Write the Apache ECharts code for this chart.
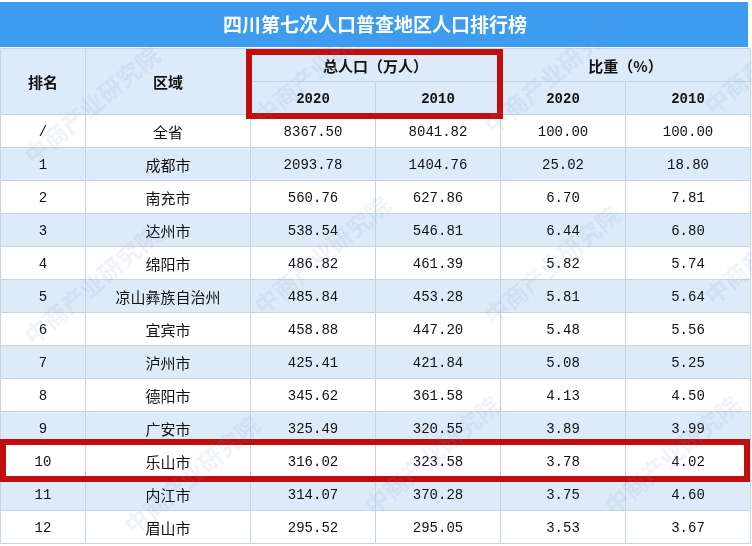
<!DOCTYPE html>
<html>
<head>
<meta charset="utf-8">
<script src="https://cdn.jsdelivr.net/npm/echarts@6/dist/echarts.min.js"></script>
<style>
  html, body { margin: 0; padding: 0; background: #fff; }
  #chart { width: 752px; height: 546px; }
</style>
</head>
<body>
<div id="chart"></div>
<script>
  // table data
  const title = '四川第七次人口普查地区人口排行榜'
  const ranks = ['/', '1', '2', '3', '4', '5', '6', '7', '8', '9', '10', '11', '12']
  const regions = ['全省', '成都市', '南充市', '达州市', '绵阳市', '凉山彝族自治州', '宜宾市', '泸州市', '德阳市', '广安市', '乐山市', '内江市', '眉山市']
  const pop2020 = [8367.50, 2093.78, 560.76, 538.54, 486.82, 485.84, 458.88, 425.41, 345.62, 325.49, 316.02, 314.07, 295.52]
  const pop2010 = [8041.82, 1404.76, 627.86, 546.81, 461.39, 453.28, 447.20, 421.84, 361.58, 320.55, 323.58, 370.28, 295.05]
  const share2020 = [100.00, 25.02, 6.70, 6.44, 5.82, 5.81, 5.48, 5.08, 4.13, 3.89, 3.78, 3.75, 3.53]
  const share2010 = [100.00, 18.80, 7.81, 6.80, 5.74, 5.64, 5.56, 5.25, 4.50, 3.99, 4.02, 4.60, 3.67]
  const headTop = ['排名', '区域', '总人口（万人）', '比重（%）']
  const headYears = ['2020', '2010', '2020', '2010']
  // highlighted rows/columns: [col0, col1, row0, row1]
  const boxes = [[2, 4, 0, 2], [0, 6, 12, 13]]

  const colEdges = [0, 0.68, 2, 3, 4, 5, 6]
  const rowCount = 2 + ranks.length
  const blue = '#ddebf9'
  const lineColor = '#c5d4e3'
  const cnFont = '"Noto Sans CJK SC", sans-serif'
  const numFont = '"Liberation Mono", "Noto Sans CJK SC", monospace'

  // build cell list (merged cells have a column/row span)
  const cells = []
  const cell = (c0, c1, r0, r1, text, bg, bold, font) => cells.push({ c0, c1, r0, r1, text, bg, bold, font })
  cell(colEdges[0], colEdges[1], 0, 2, headTop[0], blue, true, cnFont)
  cell(colEdges[1], colEdges[2], 0, 2, headTop[1], blue, true, cnFont)
  cell(colEdges[2], colEdges[4], 0, 1, headTop[2], blue, true, cnFont)
  cell(colEdges[4], colEdges[6], 0, 1, headTop[3], blue, true, cnFont)
  headYears.forEach((y, i) => cell(colEdges[i + 2], colEdges[i + 3], 1, 2, y, blue, true, numFont))
  ranks.forEach((r, i) => {
    const bg = i % 2 === 1 ? blue : '#ffffff'
    const row = i + 2
    const vals = [r, regions[i], pop2020[i].toFixed(2), pop2010[i].toFixed(2), share2020[i].toFixed(2), share2010[i].toFixed(2)]
    vals.forEach((v, c) => cell(colEdges[c], colEdges[c + 1], row, row + 1, v, bg, false, c === 1 ? cnFont : numFont))
  })

  const chart = echarts.init(document.getElementById('chart'))

  // faint watermark
  const marks = [[20, 150], [250, 110], [480, 120], [700, 100], [20, 330], [250, 300], [480, 310], [700, 290], [120, 520], [360, 500], [600, 500]]
  const watermark = marks.map(m => ({
    type: 'text',
    x: m[0],
    y: m[1],
    rotation: Math.PI / 4.5,
    silent: true,
    z: 50,
    style: { text: '中商产业研究院', fill: 'rgba(120,150,190,0.11)', font: 'bold 24px "Noto Sans CJK SC"' }
  }))

  const option = {
    animation: false,
    grid: { left: 0, top: 48, width: 750, height: 495 },
    xAxis: { type: 'value', min: 0, max: 6, show: false },
    yAxis: { type: 'value', min: 0, max: rowCount, inverse: true, show: false },
    graphic: [
      {
        type: 'rect',
        shape: { x: 0, y: 2, width: 748, height: 45 },
        style: { fill: '#3d9cf0' }
      },
      {
        type: 'text',
        x: 375,
        y: 25,
        style: {
          text: title,
          fill: '#ffffff',
          font: 'bold 19px "Noto Sans CJK SC"',
          textAlign: 'center',
          textVerticalAlign: 'middle'
        }
      }
    ].concat(watermark),
    series: [
      {
        type: 'custom',
        coordinateSystem: 'cartesian2d',
        data: cells.map((c, i) => [c.c0, c.c1, c.r0, c.r1, i]),
        encode: { x: [0, 1], y: [2, 3] },
        renderItem (params, api) {
          const c = cells[api.value(4)]
          const p0 = api.coord([c.c0, c.r0])
          const p1 = api.coord([c.c1, c.r1])
          const x0 = Math.round(p0[0]) + 0.5
          const y0 = Math.round(p0[1]) + 0.5
          const w = Math.round(p1[0]) - Math.round(p0[0])
          const h = Math.round(p1[1]) - Math.round(p0[1])
          return {
            type: 'group',
            children: [
              {
                type: 'rect',
                shape: { x: x0, y: y0, width: w, height: h },
                style: { fill: c.bg, stroke: lineColor, lineWidth: 1 }
              },
              {
                type: 'text',
                x: x0 + w / 2,
                y: y0 + h / 2 + 1,
                style: {
                  text: c.text,
                  fill: '#111111',
                  font: (c.bold ? 'bold ' : '') + (c.font === cnFont ? '15px ' : '14px ') + c.font,
                  textAlign: 'center',
                  textVerticalAlign: 'middle'
                }
              }
            ]
          }
        }
      },
      {
        type: 'custom',
        coordinateSystem: 'cartesian2d',
        z: 10,
        data: boxes,
        encode: { x: [0, 1], y: [2, 3] },
        renderItem (params, api) {
          const p0 = api.coord([api.value(0), api.value(2)])
          const p1 = api.coord([api.value(1), api.value(3)])
          const x0 = Math.max(p0[0] - 1, 3)
          const x1 = Math.min(p1[0], 747)
          const y0 = Math.max(p0[1] - 2, 52)
          const y1 = p1[1] + 2
          return {
            type: 'rect',
            shape: { x: x0, y: y0, width: x1 - x0, height: y1 - y0 },
            style: { fill: 'none', stroke: '#c00d0d', lineWidth: 6 }
          }
        }
      }
    ]
  }
  chart.setOption(option)
</script>
</body>
</html>
